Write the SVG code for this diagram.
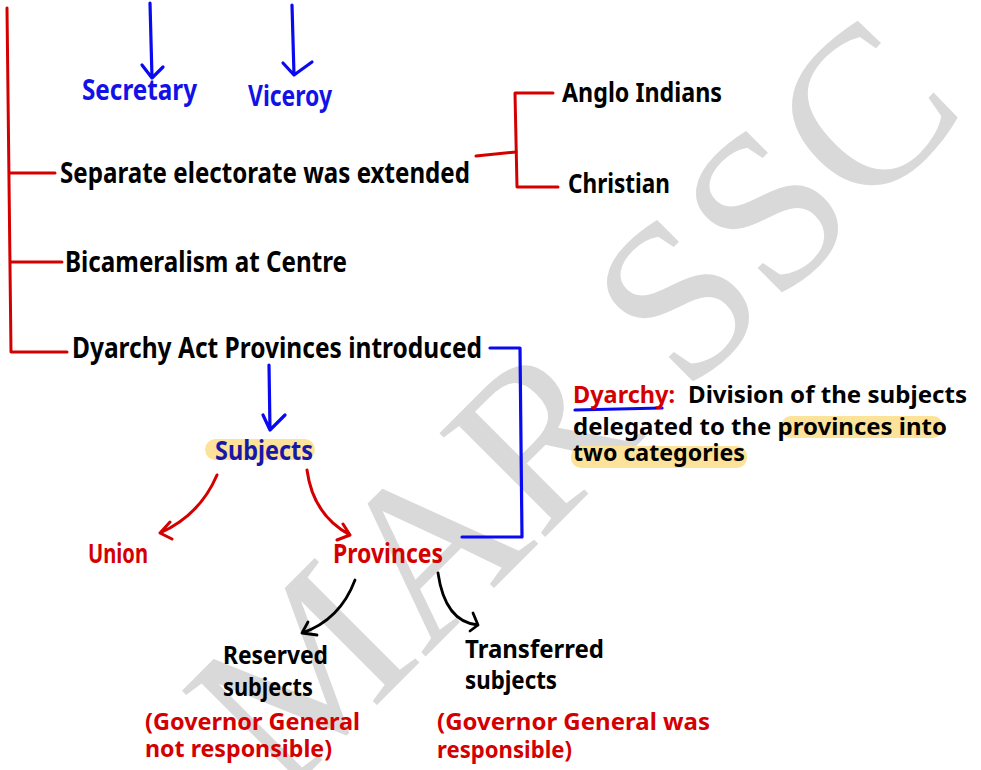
<svg xmlns="http://www.w3.org/2000/svg" width="981" height="770" viewBox="0 0 981 770">
<style>
text{font-family:"Noto Sans","DejaVu Sans",sans-serif;font-weight:bold}
.k{fill:#000}
.r{fill:#d40000}
.b{fill:#1212e8}
.bd{fill:#1818a8}
.wm{font-family:"Liberation Serif","Times New Roman",serif;font-weight:normal;fill:#d9d9d9}
.lr,.lb,.lk{fill:none;stroke-linecap:round;stroke-linejoin:round}
.lr{stroke:#d40000;stroke-width:3}
.lb{stroke:#0a0af0;stroke-width:3.2}
.lk{stroke:#000;stroke-width:2.8}
.hl{fill:#fde39a}
</style>
<rect width="981" height="770" fill="#fff"/>
<text class="wm" font-size="226" transform="translate(282,800) rotate(-45)">MAR SSC</text>

<g id="connectors">
<path class="lr" d="M7,8 L11,352 L67,352"/>
<path class="lr" d="M10,173 L55,173"/>
<path class="lr" d="M11,262 L62,262"/>
<path class="lr" d="M476,156 L516,152"/>
<path class="lr" d="M553,93 L515,93 L517,187 L558,187"/>
<path class="lb" d="M150,3 L152,78 M142,65 L152,78 L163,67"/>
<path class="lb" d="M292,5 L294,75 M283,63 L294,75 L312,62"/>
<path class="lb" d="M269,365 L270,430 M263,415 L270,430 L285,415"/>
<path class="lb" d="M490,348 L520,348 L522,537 L462,537"/>
<path class="lr" d="M217,475 Q200,515 160,533 M170,522 L160,533 L172,539"/>
<path class="lr" d="M307,470 Q313,515 350,535 M343,524 L350,535 L337,540"/>
<path class="lk" d="M355,580 Q340,620 302,633 M308,622 L302,633 L317,635"/>
<path class="lk" d="M438,573 Q445,622 478,625 M473,613 L478,625 L470,631"/>
</g>

<g id="secretary"><text class="b" x="82" y="100" font-size="29" textLength="115" lengthAdjust="spacingAndGlyphs">Secretary</text></g>
<g id="viceroy"><text class="b" x="248" y="106" font-size="28" textLength="84" lengthAdjust="spacingAndGlyphs">Viceroy</text></g>
<g id="separate"><text class="k" x="60" y="183" font-size="28" textLength="410" lengthAdjust="spacingAndGlyphs">Separate electorate was extended</text></g>
<g id="anglo"><text class="k" x="562" y="102" font-size="27" textLength="160" lengthAdjust="spacingAndGlyphs">Anglo Indians</text></g>
<g id="christian"><text class="k" x="568" y="193" font-size="27" textLength="102" lengthAdjust="spacingAndGlyphs">Christian</text></g>
<g id="bicameralism"><text class="k" x="65" y="272" font-size="28" textLength="282" lengthAdjust="spacingAndGlyphs">Bicameralism at Centre</text></g>
<g id="dyarchy-act"><text class="k" x="72" y="358" font-size="28" textLength="410" lengthAdjust="spacingAndGlyphs">Dyarchy Act Provinces introduced</text></g>
<g id="subjects">
<rect class="hl" x="205" y="439" width="110" height="21" rx="10.5"/>
<text class="bd" x="215" y="460" font-size="26" textLength="98" lengthAdjust="spacingAndGlyphs">Subjects</text>
</g>
<g id="union"><text class="r" x="88" y="563" font-size="26" textLength="60" lengthAdjust="spacingAndGlyphs">Union</text></g>
<g id="provinces"><text class="r" x="333" y="563" font-size="26" textLength="110" lengthAdjust="spacingAndGlyphs">Provinces</text></g>
<g id="reserved">
<text class="k" x="223" y="664" font-size="25" textLength="105" lengthAdjust="spacingAndGlyphs">Reserved</text>
<text class="k" x="223" y="696" font-size="25" textLength="90" lengthAdjust="spacingAndGlyphs">subjects</text>
<text class="r" x="145" y="730" font-size="23" textLength="215" lengthAdjust="spacingAndGlyphs">(Governor General</text>
<text class="r" x="145" y="757" font-size="23" textLength="187" lengthAdjust="spacingAndGlyphs">not responsible)</text>
</g>
<g id="transferred">
<text class="k" x="465" y="658" font-size="25" textLength="139" lengthAdjust="spacingAndGlyphs">Transferred</text>
<text class="k" x="465" y="689" font-size="25" textLength="92" lengthAdjust="spacingAndGlyphs">subjects</text>
<text class="r" x="437" y="730" font-size="23" textLength="273" lengthAdjust="spacingAndGlyphs">(Governor General was</text>
<text class="r" x="437" y="758" font-size="23" textLength="135" lengthAdjust="spacingAndGlyphs">responsible)</text>
</g>
<g id="definition">
<rect class="hl" x="781" y="416" width="162" height="22" rx="10"/>
<rect class="hl" x="571" y="446" width="176" height="22" rx="10"/>
<path class="lb" d="M575,410 L662,408"/>
<text class="r" x="573" y="403" font-size="23" textLength="102" lengthAdjust="spacingAndGlyphs">Dyarchy:</text>
<text class="k" x="688" y="403" font-size="23" textLength="279" lengthAdjust="spacingAndGlyphs">Division of the subjects</text>
<text class="k" x="573" y="435" font-size="23" textLength="374" lengthAdjust="spacingAndGlyphs">delegated to the provinces into</text>
<text class="k" x="573" y="461" font-size="23" textLength="172" lengthAdjust="spacingAndGlyphs">two categories</text>
</g>
</svg>
